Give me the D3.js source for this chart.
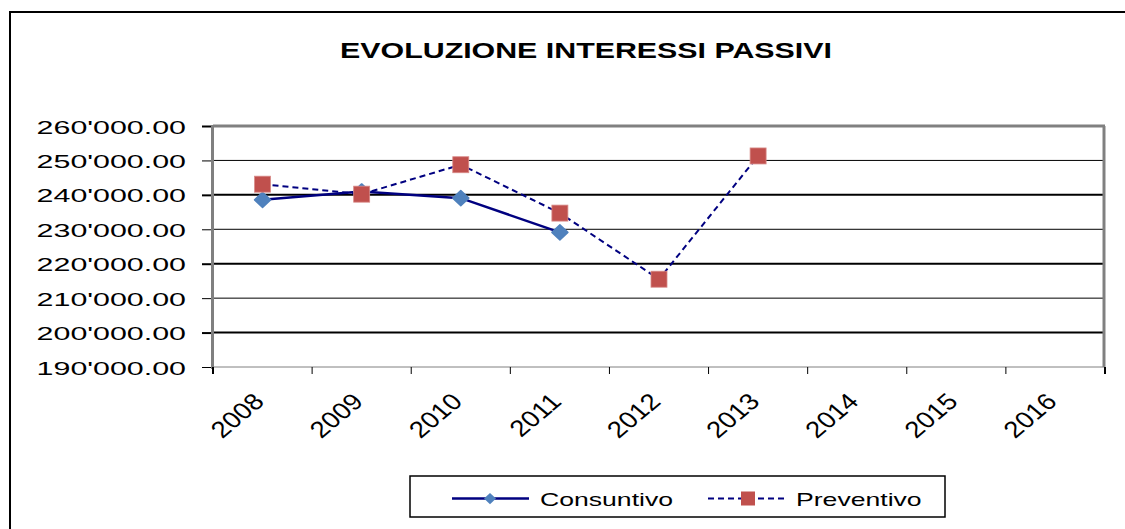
<!DOCTYPE html>
<html>
<head>
<meta charset="utf-8">
<script src="https://cdn.jsdelivr.net/npm/d3@7"></script>
<style>
  html, body { margin: 0; padding: 0; background: #fff; }
  svg { display: block; font-family: "Liberation Sans", Arial, sans-serif; }
</style>
</head>
<body>
<svg id="chart"></svg>
<script>
var width = 1125,
    height = 529

// data
var years = ["2008", "2009", "2010", "2011", "2012", "2013", "2014", "2015", "2016"]
var consuntivo = [238550, 241000, 239050, 229100]
var preventivo = [243100, 240200, 248750, 234700, 215500, 251300]
var yTicks = [190000, 200000, 210000, 220000, 230000, 240000, 250000, 260000]
var seriesNames = ["Consuntivo", "Preventivo"]
var title = "EVOLUZIONE INTERESSI PASSIVI"

var plot = { left: 213, right: 1105, top: 126, bottom: 367 }

var locale = d3.formatLocale({ decimal: ".", thousands: "'", grouping: [3], currency: ["", ""] })
var fmt = locale.format(",.2f")

var diamondPath = "M0,-7.5L8,0L0,7.5L-8,0Z"

function drawChart() {
    var svg = d3.select("#chart")
        .attr("width", width)
        .attr("height", height)

    // outer frame (right / bottom edges run off the picture)
    svg.append("rect")
        .attr("x", 10).attr("y", 12)
        .attr("width", 1140).attr("height", 540)
        .attr("fill", "#fff")
        .attr("stroke", "#000")
        .attr("stroke-width", 2)

    svg.append("text")
        .attr("transform", "translate(586,58) scale(1.38,1)")
        .attr("text-anchor", "middle")
        .attr("font-size", 22)
        .attr("font-weight", "bold")
        .text(title)

    var xScale = d3.scaleBand()
        .domain(years)
        .range([plot.left, plot.right])
        .padding(0)
    var yScale = d3.scaleLinear()
        .domain([190000, 260000])
        .range([plot.bottom, plot.top])

    var cx = function(i) { return xScale(years[i]) + xScale.bandwidth() / 2 }

    // gridlines
    svg.append("g").selectAll("line")
        .data(yTicks.filter(function(d) { return d > 190000 && d < 260000 }))
        .enter().append("line")
        .attr("x1", plot.left).attr("x2", plot.right)
        .attr("y1", function(d) { return yScale(d) })
        .attr("y2", function(d) { return yScale(d) })
        .attr("stroke", "#000")
        .attr("stroke-width", function(d) { return (d / 10000) % 2 == 0 ? 2 : 1 })

    // plot frame: top and right grey
    svg.append("line")
        .attr("x1", plot.left).attr("x2", plot.right)
        .attr("y1", plot.top).attr("y2", plot.top)
        .attr("stroke", "#808080").attr("stroke-width", 3)
    svg.append("line")
        .attr("x1", plot.right - 1).attr("x2", plot.right - 1)
        .attr("y1", plot.top).attr("y2", plot.bottom)
        .attr("stroke", "#808080").attr("stroke-width", 3)

    // y axis
    var yAxis = svg.append("g")
        .attr("transform", "translate(" + plot.left + ",0)")
        .call(d3.axisLeft(yScale).tickValues(yTicks).tickSize(11).tickFormat(fmt))
    yAxis.select(".domain").remove()
    yAxis.selectAll(".tick line")
        .attr("stroke", "#000")
        .attr("stroke-width", function(d) { return (d / 10000) % 2 == 0 ? 2 : 1 })
    yAxis.selectAll(".tick text")
        .attr("x", null).attr("dy", null)
        .attr("transform", "translate(-27,7) scale(1.6,1)")
        .attr("text-anchor", "end")
        .attr("font-size", 19)
        .attr("font-family", "'Liberation Sans', Arial, sans-serif")
        .attr("fill", "#000")
    svg.append("line")
        .attr("x1", plot.left - 0.5).attr("x2", plot.left - 0.5)
        .attr("y1", plot.top - 1).attr("y2", plot.bottom + 2)
        .attr("stroke", "#808080").attr("stroke-width", 3)

    // x axis
    svg.append("line")
        .attr("x1", plot.left).attr("x2", plot.right)
        .attr("y1", plot.bottom).attr("y2", plot.bottom)
        .attr("stroke", "#808080").attr("stroke-width", 1)
    var bounds = years.map(function(d) { return xScale(d) }).concat([plot.right])
    svg.append("g").selectAll("line")
        .data(bounds)
        .enter().append("line")
        .attr("x1", function(d) { return d }).attr("x2", function(d) { return d })
        .attr("y1", plot.bottom).attr("y2", plot.bottom + 7)
        .attr("stroke", "#000")
        .attr("stroke-width", function(d, i) { return i == 0 || i == bounds.length - 1 ? 2 : 1 })
    svg.append("g").selectAll("text")
        .data(years)
        .enter().append("text")
        .attr("transform", function(d, i) {
            return "translate(" + (cx(i) + 3) + ",403) scale(1.2,1) rotate(-45)"
        })
        .attr("text-anchor", "end")
        .attr("font-size", 23)
        .text(function(d) { return d })

    // series
    var line = d3.line()
        .x(function(d, i) { return cx(i) })
        .y(function(d) { return yScale(d) })

    svg.append("path")
        .datum(consuntivo)
        .attr("d", line)
        .attr("fill", "none")
        .attr("stroke", "#000080")
        .attr("stroke-width", 2.5)
    svg.append("g").selectAll("path")
        .data(consuntivo)
        .enter().append("path")
        .attr("d", diamondPath)
        .attr("transform", function(d, i) { return "translate(" + cx(i) + "," + yScale(d) + ")" })
        .attr("fill", "#4F81BD")
        .attr("stroke", "#4F81BD")
        .attr("stroke-linejoin", "round")
        .attr("stroke-width", 1.5)

    svg.append("path")
        .datum(preventivo)
        .attr("d", line)
        .attr("fill", "none")
        .attr("stroke", "#000080")
        .attr("stroke-width", 2)
        .attr("stroke-dasharray", "6,4")
    svg.append("g").selectAll("rect")
        .data(preventivo)
        .enter().append("rect")
        .attr("x", function(d, i) { return cx(i) - 8 })
        .attr("y", function(d) { return yScale(d) - 8 })
        .attr("width", 16).attr("height", 16)
        .attr("fill", "#C0504D")
        .attr("stroke", "#D88A88")
        .attr("stroke-width", 0.8)

    // legend
    var lg = svg.append("g")
    lg.append("rect")
        .attr("x", 410).attr("y", 476)
        .attr("width", 535).attr("height", 41)
        .attr("fill", "#fff")
        .attr("stroke", "#000")
        .attr("stroke-width", 1.5)
    lg.append("line")
        .attr("x1", 452).attr("x2", 529).attr("y1", 498.5).attr("y2", 498.5)
        .attr("stroke", "#000080").attr("stroke-width", 2.5)
    lg.append("path")
        .attr("d", diamondPath)
        .attr("transform", "translate(490,498.5) scale(0.75)")
        .attr("fill", "#4F81BD")
    lg.append("text")
        .attr("transform", "translate(540,505.5) scale(1.4,1)")
        .attr("font-size", 19)
        .text(seriesNames[0])
    lg.append("line")
        .attr("x1", 708).attr("x2", 786).attr("y1", 498.5).attr("y2", 498.5)
        .attr("stroke", "#000080").attr("stroke-width", 2)
        .attr("stroke-dasharray", "6,4")
    lg.append("rect")
        .attr("x", 741).attr("y", 491.5)
        .attr("width", 14).attr("height", 14)
        .attr("fill", "#C0504D")
    lg.append("text")
        .attr("transform", "translate(796,505.5) scale(1.4,1)")
        .attr("font-size", 19)
        .text(seriesNames[1])
}

drawChart()
</script>
</body>
</html>
